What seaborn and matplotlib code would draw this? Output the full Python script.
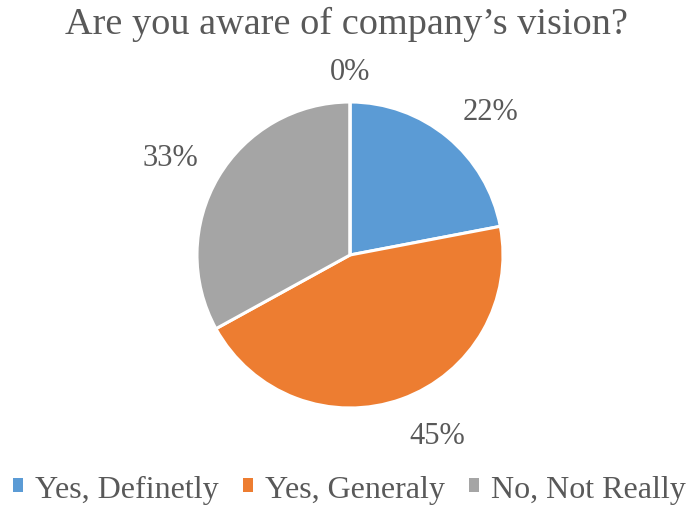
import matplotlib
matplotlib.use("Agg")
import numpy as np
import matplotlib.pyplot as plt
import seaborn as sns

# Survey responses (percent of respondents)
categories = ["Yes, Definetly", "Yes, Generaly", "No, Not Really", ""]
shares = [22, 45, 33, 0]
colors = ["#5B9BD5", "#ED7D31", "#A5A5A5", "#FFC000"]
title = "Are you aware of company\u2019s vision?"

sns.set_theme(style="white")
plt.rcParams["font.family"] = ["Liberation Serif", "DejaVu Serif"]
text_color = "#595959"

fig = plt.figure(figsize=(6.92, 5.10), dpi=100)
# square axes holding the pie
ax = fig.add_axes([(350 - 153) / 692, (510 - 256 - 153) / 510, 306 / 692, 306 / 510])

wedges, _ = ax.pie(
    shares,
    colors=colors,
    startangle=90,
    counterclock=False,
    radius=1.0,
    wedgeprops=dict(edgecolor="white", linewidth=2.2),
)

# percentage labels just outside each wedge, anchored at the corner facing the pie
for w, v in zip(wedges, shares):
    mid = np.deg2rad((w.theta1 + w.theta2) / 2)
    c, s = np.cos(mid), np.sin(mid)
    r = 1.15
    ha = "left" if c > 0.15 else ("right" if c < -0.15 else "center")
    va = "baseline" if s > 0 else "top"
    ax.text(r * c, r * s, f"{v:.0f}%", ha=ha, va=va, fontsize=22,
            color=text_color, clip_on=False)

ax.set_xlim(-1.0, 1.0)
ax.set_ylim(-1.0, 1.0)
ax.set_aspect("equal")
ax.axis("off")

fig.text(0.5, 1 - 24 / 510, title, ha="center", va="center",
         fontsize=27.5, color=text_color)

leg = fig.legend(
    wedges[:3], categories[:3],
    loc="center", bbox_to_anchor=(0.505, 1 - 490 / 510),
    ncol=3, frameon=False, fontsize=23,
    handlelength=0.32, handleheight=0.33, handletextpad=0.38,
    columnspacing=0.75,
)
for t in leg.get_texts():
    t.set_color(text_color)
for h in leg.legend_handles:
    h.set_edgecolor("none")

fig.savefig("out.png", dpi=100, facecolor="white")
